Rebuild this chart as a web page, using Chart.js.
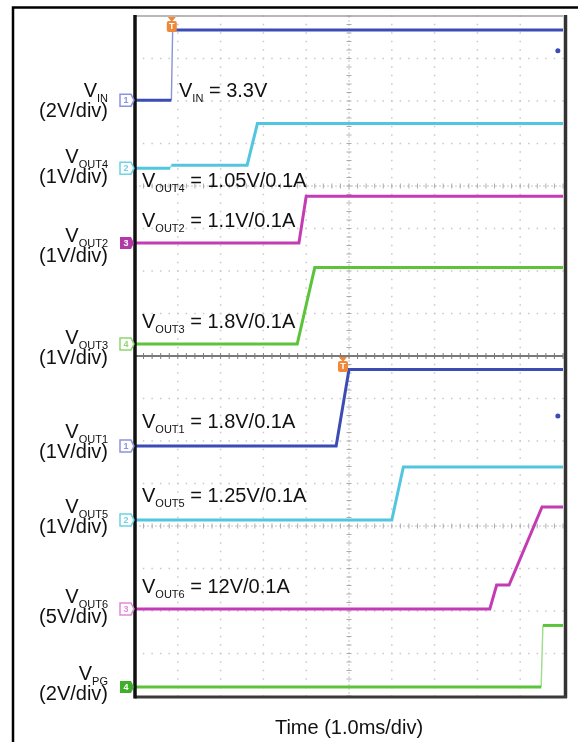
<!DOCTYPE html>
<html>
<head>
<meta charset="utf-8">
<script src="https://cdn.jsdelivr.net/npm/chart.js@4.4.1/dist/chart.umd.min.js"></script>
<style>
html, body { margin: 0; padding: 0; background: #fff; }
#wrap { position: relative; width: 578px; height: 742px; }
</style>
</head>
<body>
<div id="wrap"><canvas id="scope" width="578" height="742"></canvas></div>
<script>
// ======================================================
// Data (time in ms, levels in volts)
// ======================================================

const timeTicks = [0, 1, 2, 3, 4, 5, 6, 7, 8, 9, 10];
const divTicks = [0, 1, 2, 3, 4, 5, 6, 7, 8, 9, 10, 11, 12, 13, 14, 15, 16];

const vinTime = [0, 0.85, 0.88, 10];
const vinVolts = [0, 0, 3.3, 3.3];

const vout4Time = [0, 0.82, 0.85, 2.62, 2.86, 10];
const vout4Volts = [0, 0, 0.07, 0.07, 1.05, 1.05];

const vout2Time = [0, 3.83, 4.0, 10];
const vout2Volts = [0, 0, 1.1, 1.1];

const vout3Time = [0, 3.79, 4.2, 10];
const vout3Volts = [0, 0, 1.8, 1.8];

const vout1Time = [0, 4.7, 5.0, 10];
const vout1Volts = [0, 0, 1.8, 1.8];

const vout5Time = [0, 6.0, 6.27, 10];
const vout5Volts = [0, 0, 1.25, 1.25];

const vout6Time = [0, 8.29, 8.45, 8.74, 9.51, 10];
const vout6Volts = [0, 0, 2.8, 2.8, 12, 12];

const vpgTime = [0, 9.49, 9.53, 10];
const vpgVolts = [0, 0, 2.9, 2.9];

// channel settings: name, V/div, ground level (divisions from bottom), scope channel
const channelNames = ["IN", "OUT4", "OUT2", "OUT3", "OUT1", "OUT5", "OUT6", "PG"];
const channelScaleText = ["(2V/div)", "(1V/div)", "(1V/div)", "(1V/div)", "(1V/div)", "(1V/div)", "(5V/div)", "(2V/div)"];
const voltsPerDiv = [2, 1, 1, 1, 1, 1, 5, 2];
const groundDiv = [14.02, 12.42, 10.66, 8.28, 5.88, 4.14, 2.05, 0.21];
const channelNumber = [1, 2, 3, 4, 1, 2, 3, 4];
const loadText = ["3.3V", "1.05V/0.1A", "1.1V/0.1A", "1.8V/0.1A", "1.8V/0.1A", "1.25V/0.1A", "12V/0.1A", null];

const triggerTimes = [0.86, 4.86];
const triggerPanelTop = [16, 8];
const refDotTime = 9.88;
const refDotLevel = [15.18, 6.59];

// ======================================================
// Styles
// ======================================================

const FONT = "'Liberation Sans', Arial, sans-serif";
const BLUE = "#3b4cb4";
const CYAN = "#52c6e0";
const MAGENTA = "#c43cb4";
const GREEN = "#5cc43a";

const traceColors = [BLUE, CYAN, MAGENTA, GREEN, BLUE, CYAN, MAGENTA, GREEN];
const markerFilled = [false, false, true, false, false, false, false, true];
const markerColors = ["#8c92e0", "#6fd2e6", "#b23aa8", "#8ad86e", "#8c92e0", "#6fd2e6", "#e08ad8", "#3fae2a"];

// annotation text positions (px)
const annoX = [179, 142, 142, 142, 142, 142, 142];
const annoY = [97, 187, 227, 328, 428, 502, 593];
const leftY = [97, 163, 242, 344, 438, 513, 603, 680];

const allTimes = [vinTime, vout4Time, vout2Time, vout3Time, vout1Time, vout5Time, vout6Time, vpgTime];
const allVolts = [vinVolts, vout4Volts, vout2Volts, vout3Volts, vout1Volts, vout5Volts, vout6Volts, vpgVolts];

function tracePoints(i) {
    return allTimes[i].map((t, k) => ({
        x: t,
        y: groundDiv[i] + allVolts[i][k] / voltsPerDiv[i]
    }));
}

function lighten(hex) {
    return hex + "99";
}

// ======================================================
// Text helpers
// ======================================================

function subWidth(ctx, sub) {
    ctx.font = "20px " + FONT;
    const w1 = ctx.measureText("V").width;
    ctx.font = "11px " + FONT;
    return w1 + ctx.measureText(sub).width;
}

function drawVSub(ctx, x, y, sub, rest) {
    ctx.fillStyle = "#111";
    ctx.textAlign = "left";
    ctx.textBaseline = "alphabetic";
    ctx.font = "20px " + FONT;
    ctx.fillText("V", x, y);
    let cx = x + ctx.measureText("V").width;
    ctx.font = "11px " + FONT;
    ctx.fillText(sub, cx, y + 5);
    cx += ctx.measureText(sub).width;
    if (rest) {
        ctx.font = "20px " + FONT;
        ctx.fillText(rest, cx, y);
    }
}

// ======================================================
// Scope decoration plugin
// ======================================================

const scopePlugin = {
    id: "scope",
    beforeDatasetsDraw(chart) {
        const ctx = chart.ctx;
        const xs = chart.scales.x;
        const ys = chart.scales.y;
        const a = chart.chartArea;
        ctx.save();

        // dotted grid
        ctx.fillStyle = "#c8c8c8";
        timeTicks.forEach(t => {
            if (t === 0 || t === 10 || t === 5) return;
            const px = xs.getPixelForValue(t);
            for (let v = 0; v <= 16.001; v += 0.2) {
                ctx.fillRect(px - 0.75, ys.getPixelForValue(v) - 0.75, 1.5, 1.5);
            }
        });
        divTicks.forEach(d => {
            if (d === 0 || d === 16 || d === 4 || d === 8 || d === 12) return;
            const py = ys.getPixelForValue(d);
            for (let t = 0; t <= 10.001; t += 0.2) {
                ctx.fillRect(xs.getPixelForValue(t) - 0.75, py - 0.75, 1.5, 1.5);
            }
        });

        // centre lines with minor ticks
        ctx.strokeStyle = "#c4c4c4";
        ctx.lineWidth = 1;
        ctx.setLineDash([2, 2]);
        const cx = xs.getPixelForValue(5);
        ctx.beginPath();
        ctx.moveTo(cx, a.top);
        ctx.lineTo(cx, a.bottom);
        [4, 12].forEach(d => {
            const py = ys.getPixelForValue(d);
            ctx.moveTo(a.left, py);
            ctx.lineTo(a.right, py);
        });
        ctx.stroke();
        ctx.setLineDash([]);

        ctx.strokeStyle = "#acacac";
        ctx.beginPath();
        for (let v = 0; v <= 16.001; v += 0.2) {
            const py = ys.getPixelForValue(v);
            ctx.moveTo(cx - 2.5, py);
            ctx.lineTo(cx + 2.5, py);
        }
        [4, 12].forEach(d => {
            const py = ys.getPixelForValue(d);
            for (let t = 0; t <= 10.001; t += 0.2) {
                const px = xs.getPixelForValue(t);
                ctx.moveTo(px, py - 2.5);
                ctx.lineTo(px, py + 2.5);
            }
        });
        ctx.stroke();

        // separator between the two captures
        const sy = ys.getPixelForValue(8);
        ctx.strokeStyle = "#7a7a7a";
        ctx.lineWidth = 2;
        ctx.beginPath();
        ctx.moveTo(a.left, sy);
        ctx.lineTo(a.right, sy);
        ctx.stroke();
        ctx.lineWidth = 1;
        ctx.beginPath();
        for (let t = 0; t <= 10.001; t += 0.2) {
            const px = xs.getPixelForValue(t);
            ctx.moveTo(px, sy - 3);
            ctx.lineTo(px, sy + 3);
        }
        ctx.stroke();

        ctx.restore();
    },

    afterDatasetsDraw(chart) {
        const ctx = chart.ctx;
        const xs = chart.scales.x;
        const ys = chart.scales.y;
        const a = chart.chartArea;
        ctx.save();

        // plot frame
        ctx.strokeStyle = "#a0a0a0";
        ctx.lineWidth = 1.5;
        ctx.beginPath();
        ctx.moveTo(a.left, a.top);
        ctx.lineTo(a.right, a.top);
        ctx.stroke();

        ctx.strokeStyle = "#333";
        ctx.lineWidth = 3.5;
        ctx.beginPath();
        ctx.moveTo(a.right + 2.5, a.top - 1);
        ctx.lineTo(a.right + 2.5, a.bottom + 2);
        ctx.stroke();

        ctx.strokeStyle = "#3a3a3a";
        ctx.lineWidth = 3;
        ctx.beginPath();
        ctx.moveTo(a.left, a.bottom + 1);
        ctx.lineTo(a.right + 4, a.bottom + 1);
        ctx.stroke();

        ctx.strokeStyle = "#111";
        ctx.lineWidth = 3.5;
        ctx.beginPath();
        ctx.moveTo(a.left, a.top - 1);
        ctx.lineTo(a.left, a.bottom + 2.5);
        ctx.stroke();

        // outer frame
        ctx.strokeStyle = "#000";
        ctx.lineWidth = 2.5;
        ctx.beginPath();
        ctx.moveTo(13, 742);
        ctx.lineTo(13, 7.5);
        ctx.lineTo(578, 7.5);
        ctx.stroke();

        // trigger markers
        triggerTimes.forEach((t, i) => {
            const px = xs.getPixelForValue(t);
            const top = ys.getPixelForValue(triggerPanelTop[i]);
            ctx.fillStyle = "#f0883a";
            ctx.beginPath();
            ctx.moveTo(px - 4, top + 1);
            ctx.lineTo(px + 4, top + 1);
            ctx.lineTo(px, top + 6);
            ctx.closePath();
            ctx.fill();
            ctx.beginPath();
            ctx.roundRect(px - 5, top + 5, 10, 11, 2);
            ctx.fill();
            ctx.fillStyle = "#fff";
            ctx.font = "bold 9px " + FONT;
            ctx.textAlign = "center";
            ctx.textBaseline = "middle";
            ctx.fillText("T", px, top + 11);
        });

        // reference dots
        ctx.fillStyle = BLUE;
        refDotLevel.forEach(v => {
            ctx.beginPath();
            ctx.arc(xs.getPixelForValue(refDotTime), ys.getPixelForValue(v), 2.5, 0, Math.PI * 2);
            ctx.fill();
        });

        // channel ground markers
        groundDiv.forEach((g, i) => {
            const py = ys.getPixelForValue(g);
            const x0 = a.left - 15;
            ctx.beginPath();
            ctx.moveTo(x0, py - 6);
            ctx.lineTo(x0 + 11, py - 6);
            ctx.lineTo(x0 + 14, py);
            ctx.lineTo(x0 + 11, py + 6);
            ctx.lineTo(x0, py + 6);
            ctx.closePath();
            if (markerFilled[i]) {
                ctx.fillStyle = markerColors[i];
                ctx.fill();
            } else {
                ctx.fillStyle = "#fff";
                ctx.fill();
                ctx.strokeStyle = markerColors[i];
                ctx.lineWidth = 1.5;
                ctx.stroke();
            }
            ctx.fillStyle = markerFilled[i] ? "#fff" : markerColors[i];
            ctx.font = "bold 9px " + FONT;
            ctx.textAlign = "center";
            ctx.textBaseline = "middle";
            ctx.fillText(String(channelNumber[i]), x0 + 6, py + 0.5);
        });

        // left channel labels
        channelNames.forEach((name, i) => {
            const right = 108;
            drawVSub(ctx, right - subWidth(ctx, name), leftY[i], name, null);
            ctx.font = "20px " + FONT;
            ctx.textAlign = "right";
            ctx.fillStyle = "#111";
            ctx.fillText(channelScaleText[i], right, leftY[i] + 20);
        });

        // in-plot annotations
        loadText.forEach((txt, i) => {
            if (!txt) return;
            drawVSub(ctx, annoX[i], annoY[i], channelNames[i], " = " + txt);
        });

        // time axis label
        ctx.font = "20px " + FONT;
        ctx.textAlign = "center";
        ctx.textBaseline = "alphabetic";
        ctx.fillStyle = "#111";
        ctx.fillText("Time (1.0ms/div)", xs.getPixelForValue(5), 734);

        ctx.restore();
    }
};

// ======================================================
// Chart
// ======================================================

new Chart(
    document.getElementById("scope"),
    {
        type: "line",
        data: {
            datasets: channelNames.map((name, i) => ({
                label: "V" + name,
                data: tracePoints(i),
                borderColor: traceColors[i],
                borderWidth: 3,
                pointRadius: 0,
                tension: 0,
                fill: false,
                segment: {
                    borderWidth: c => Math.abs(c.p1.x - c.p0.x) < 4 ? 1.4 : 3,
                    borderColor: c => Math.abs(c.p1.x - c.p0.x) < 4 ? lighten(traceColors[i]) : traceColors[i]
                }
            }))
        },
        options: {
            responsive: false,
            animation: false,
            layout: {
                padding: { left: 135, top: 16, right: 15, bottom: 46 }
            },
            scales: {
                x: { type: "linear", min: 0, max: 10, display: false },
                y: { type: "linear", min: 0, max: 16, display: false }
            },
            plugins: {
                legend: { display: false },
                tooltip: { enabled: false }
            }
        },
        plugins: [scopePlugin]
    }
);
</script>
</body>
</html>
